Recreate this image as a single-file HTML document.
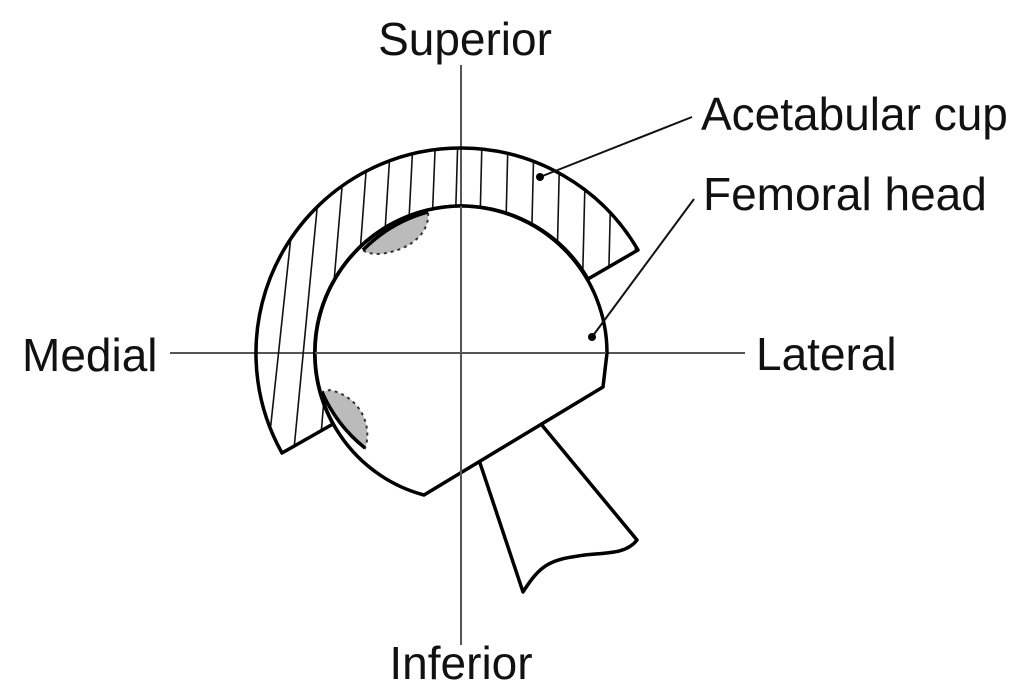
<!DOCTYPE html>
<html><head><meta charset="utf-8"><style>
html,body{margin:0;padding:0;background:#fff;width:1024px;height:689px;overflow:hidden}
text{font-family:"Liberation Sans",Arial,sans-serif;font-size:46px;fill:#111}
</style></head><body>
<svg id="s" width="1024" height="689" viewBox="0 0 1024 689" xmlns="http://www.w3.org/2000/svg">
<defs>
<clipPath id="cup"><path d="M282,453 A205,205 0 0 1 461,148 A205,205 0 0 1 638,250 L588,279 A147,147 0 0 0 461,206 A147,147 0 0 0 333,424 Z"/></clipPath>
</defs>
<line x1="461" y1="65" x2="461" y2="645" stroke="#555" stroke-width="2"/>
<line x1="170" y1="353" x2="745" y2="353" stroke="#555" stroke-width="2"/>
<g id="h" clip-path="url(#cup)" stroke="#111" stroke-width="1.6"></g>
<path d="M282,453 A205,205 0 0 1 461,148 A205,205 0 0 1 638,250 L588,279 A147,147 0 0 0 461,206 A147,147 0 0 0 333,424 Z" fill="none" stroke="#000" stroke-width="3.5" stroke-linejoin="round"/>
<path d="M479,460 L541,424 L637,540 C625,556 600,552 578,556 C550,560 540,565 523,592 Z" fill="#fff" stroke="#000" stroke-width="3.5" stroke-linejoin="round"/>
<path d="M607,353 A147,147 0 0 0 461,206 A147,147 0 0 0 424,495 L603,387 Z" fill="#fff" stroke="#000" stroke-width="3.5" stroke-linejoin="round"/>
<line x1="461" y1="206" x2="461" y2="645" stroke="#555" stroke-width="2"/>
<line x1="315" y1="353" x2="606" y2="353" stroke="#555" stroke-width="2"/>
<path d="M363,250 A147,147 0 0 1 428,212 C430,232 412,250 380,254 C372,254 366,253 363,250 Z" fill="#bbb" stroke="#333" stroke-width="2" stroke-dasharray="3,4"/>
<path d="M363,250 A147,147 0 0 1 428,212" fill="none" stroke="#000" stroke-width="3.5"/>
<path d="M322,392 A147,147 0 0 0 365,448 C372,430 364,398 330,390 Z" fill="#bbb" stroke="#333" stroke-width="2" stroke-dasharray="3,4"/>
<path d="M322,392 A147,147 0 0 0 365,448" fill="none" stroke="#000" stroke-width="3.5"/>
<line x1="540" y1="177" x2="692" y2="117" stroke="#111" stroke-width="2"/>
<circle cx="540" cy="177" r="4" fill="#000"/>
<line x1="592" y1="337" x2="694" y2="199" stroke="#111" stroke-width="2"/>
<circle cx="592" cy="337" r="4" fill="#000"/>
<text x="465" y="55" text-anchor="middle">Superior</text>
<text x="22" y="371">Medial</text>
<text x="756" y="370">Lateral</text>
<text x="461" y="679" text-anchor="middle">Inferior</text>
<text x="701" y="130">Acetabular cup</text>
<text x="703" y="210">Femoral head</text>
</svg>
<script>
var g=document.getElementById('h'),ns='http://www.w3.org/2000/svg';
for(var b=240;b<=660;b+=26){
  var t=Math.max(0,461-b)*0.14+8;
  var l=document.createElementNS(ns,'line');
  l.setAttribute('x1',b);l.setAttribute('y1',470);
  l.setAttribute('x2',b+t);l.setAttribute('y2',140);
  g.appendChild(l);
}
</script>
</body></html>
